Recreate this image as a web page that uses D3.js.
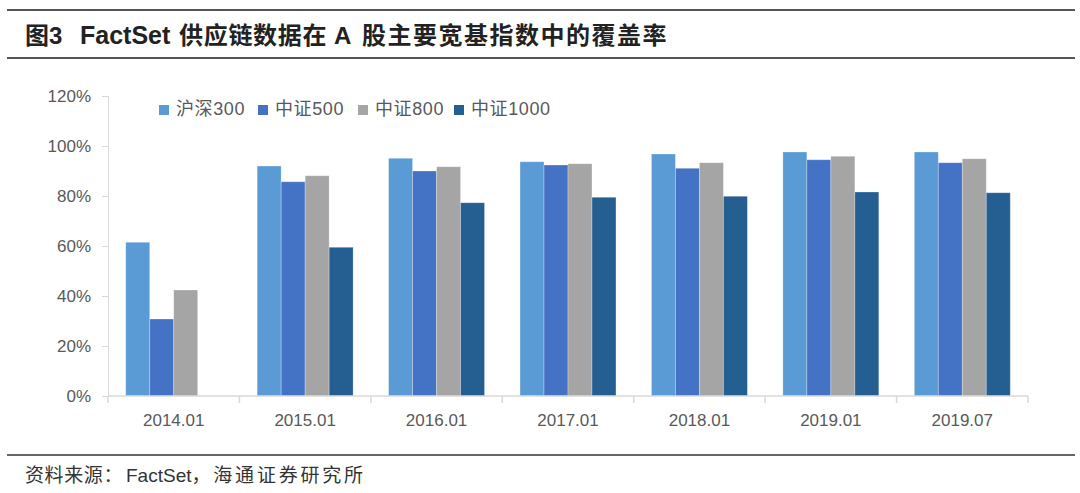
<!DOCTYPE html>
<html><head><meta charset="utf-8">
<script src="https://cdn.jsdelivr.net/npm/d3@7"></script>
<style>
html,body{margin:0;padding:0;background:#fff;}
svg{display:block;}
</style></head>
<body>
<svg id="c" width="1080" height="493"></svg>
<script>
const categories = ["2014.01","2015.01","2016.01","2017.01","2018.01","2019.01","2019.07"];
const seriesNames = ["沪深300","中证500","中证800","中证1000"];
const hs300  = [61.5, 92.0, 95.1, 93.7, 96.8, 97.6, 97.6];
const zz500  = [30.8, 85.7, 90.0, 92.4, 91.1, 94.5, 93.3];
const zz800  = [42.4, 88.1, 91.7, 92.9, 93.3, 95.9, 94.9];
const zz1000 = [null, 59.5, 77.3, 79.5, 79.9, 81.6, 81.3];
const yTicks = [0, 20, 40, 60, 80, 100, 120];
const colors = ["#5B9BD5","#4472C4","#A5A5A5","#255E91"];

const seriesValues = [hs300, zz500, zz800, zz1000];
const svg = d3.select("#c");
const latin = "'Liberation Sans', Arial, sans-serif";
const cjk = "'Liberation Sans', 'Noto Sans CJK SC', sans-serif";

// header lines & title
svg.append("line").attr("x1",7).attr("x2",1075).attr("y1",10).attr("y2",10).attr("stroke","#555").attr("stroke-width",2);
svg.append("line").attr("x1",7).attr("x2",1075).attr("y1",58).attr("y2",58).attr("stroke","#555").attr("stroke-width",2);
const title = svg.append("text").attr("y",44).attr("font-size",24).attr("font-weight","bold").attr("fill","#222").attr("font-family",cjk);
title.append("tspan").attr("x",25).text("图3");
title.append("tspan").attr("x",80).attr("font-size",25).text("FactSet");
title.append("tspan").attr("x",179).attr("letter-spacing",0.7).text("供应链数据在");
title.append("tspan").attr("x",334).text("A");
title.append("tspan").attr("x",362).attr("letter-spacing",1.5).text("股主要宽基指数中的覆盖率");

// footer
svg.append("line").attr("x1",7).attr("x2",1075).attr("y1",455).attr("y2",455).attr("stroke","#333").attr("stroke-width",1.5);
const foot = svg.append("text").attr("x",25).attr("y",482).attr("font-size",19).attr("fill","#333").attr("font-family",cjk);
foot.append("tspan").attr("letter-spacing",0.6).text("资料来源：");
foot.append("tspan").attr("dx",3).text("FactSet");
foot.append("tspan").attr("letter-spacing",2.8).text("，海通证券研究所");

// scales
const x0 = d3.scaleBand().domain(categories).range([108, 1028]).paddingInner(0.27).paddingOuter(0.135);
const x1 = d3.scaleBand().domain(seriesNames).range([0, x0.bandwidth()]);
const y = d3.scaleLinear().domain([0, 120]).range([396, 96]);

// y axis
const ya = svg.append("g").attr("transform","translate(108,0)")
  .call(d3.axisLeft(y).tickValues(yTicks).tickSize(6).tickFormat(d => d + "%"));
ya.select(".domain").attr("stroke","#d9d9d9");
ya.selectAll(".tick line").attr("stroke","#d9d9d9").attr("x1",-6).attr("x2",0);
ya.selectAll(".tick text").attr("fill","#595959").attr("font-size",17).attr("font-family",latin).attr("x",-17);

// bars
const groups = svg.append("g").selectAll("g").data(categories).join("g")
  .attr("transform", d => `translate(${x0(d)},0)`);
groups.selectAll("rect").data((d,i) => seriesNames.map((s,j) => ({s, v: seriesValues[j][i], j})).filter(e => e.v != null))
  .join("rect")
  .attr("x", e => x1(e.s))
  .attr("width", x1.bandwidth())
  .attr("y", e => y(e.v))
  .attr("height", e => y(0) - y(e.v))
  .attr("fill", e => colors[e.j])
  .attr("stroke","#ffffff").attr("stroke-opacity",0.35).attr("stroke-width",0.8);

// x axis with boundary ticks
const xa = svg.append("g").attr("transform","translate(0,396)");
xa.append("line").attr("x1",108).attr("x2",1028).attr("stroke","#d9d9d9").attr("stroke-width",1.5);
const bounds = d3.range(categories.length + 1).map(i => x0(categories[Math.min(i, categories.length-1)]) - x0.step()*x0.paddingInner()/2 + (i === categories.length ? x0.step() : 0));
xa.selectAll("line.tk").data(bounds).join("line").attr("class","tk")
  .attr("x1", d => d).attr("x2", d => d).attr("y1",0).attr("y2",7).attr("stroke","#d9d9d9").attr("stroke-width",1.5);
xa.selectAll("text").data(categories).join("text")
  .attr("x", d => x0(d) + x0.bandwidth()/2).attr("y", 30)
  .attr("text-anchor","middle").attr("fill","#595959").attr("font-size",17).attr("font-family",latin)
  .text(d => d);

// legend
const legX = [159, 258, 358, 454];
const leg = svg.append("g").selectAll("g").data(seriesNames).join("g")
  .attr("transform", (d,i) => `translate(${legX[i]},105)`);
leg.append("rect").attr("width",10).attr("height",10).attr("fill",(d,i)=>colors[i]);
leg.append("text").attr("x",17).attr("y",10).attr("font-size",18).attr("letter-spacing",0.6).attr("fill","#595959").attr("font-family",cjk).text(d => d);
</script>
</body></html>
